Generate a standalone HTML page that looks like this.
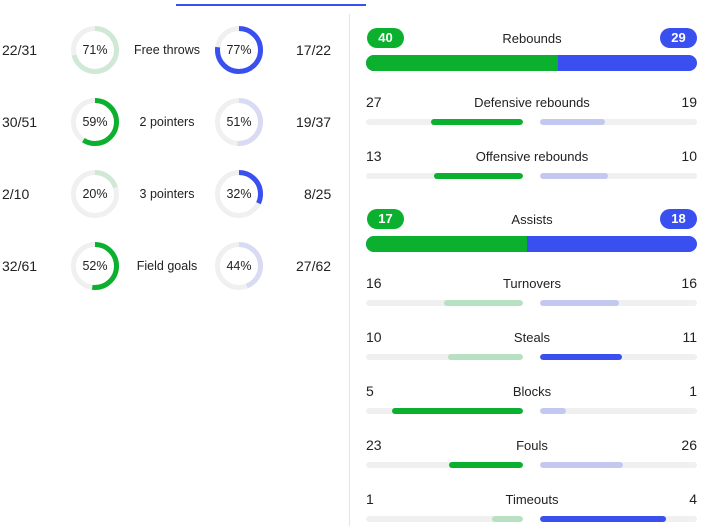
<!DOCTYPE html>
<html><head><meta charset="utf-8"><style>
body{margin:0;width:713px;height:526px;background:#fff;position:relative;overflow:hidden;font-family:"Liberation Sans",sans-serif;color:#222;}
.a{position:absolute;white-space:nowrap}
.v{font-size:14px}
.l{font-size:13px;transform:translateX(-50%)}
.tr{position:absolute;height:6px;width:157px;background:#f0f0f0;border-radius:3px;overflow:hidden}
.f{position:absolute;top:0;height:6px;border-radius:3px}
.pill{position:absolute;height:20px;width:37px;border-radius:10px;color:#fff;font-weight:bold;font-size:13px;text-align:center;line-height:20px}
</style></head><body>
<div class="a" style="left:176px;top:4px;width:190px;height:2px;background:#3a4ff0"></div>
<div class="a" style="left:349px;top:14px;width:1px;height:512px;background:#e4e4e4"></div>

<svg class="a" style="left:0;top:0" width="349" height="526">
<g fill="none" stroke-width="5">
<circle cx="95" cy="50" r="21.5" stroke="#f0f0f0"/><circle cx="95" cy="50" r="21.5" stroke="#cfe9d6" stroke-dasharray="95.9 200" transform="rotate(-90 95 50)"/>
<circle cx="239" cy="50" r="21.5" stroke="#f0f0f0"/><circle cx="239" cy="50" r="21.5" stroke="#3a4ff0" stroke-dasharray="104 200" transform="rotate(-90 239 50)"/>
<circle cx="95" cy="122" r="21.5" stroke="#f0f0f0"/><circle cx="95" cy="122" r="21.5" stroke="#0bb02e" stroke-dasharray="79.7 200" transform="rotate(-90 95 122)"/>
<circle cx="239" cy="122" r="21.5" stroke="#f0f0f0"/><circle cx="239" cy="122" r="21.5" stroke="#d8dbf3" stroke-dasharray="68.9 200" transform="rotate(-90 239 122)"/>
<circle cx="95" cy="194" r="21.5" stroke="#f0f0f0"/><circle cx="95" cy="194" r="21.5" stroke="#cfe9d6" stroke-dasharray="27 200" transform="rotate(-90 95 194)"/>
<circle cx="239" cy="194" r="21.5" stroke="#f0f0f0"/><circle cx="239" cy="194" r="21.5" stroke="#3a4ff0" stroke-dasharray="43.2 200" transform="rotate(-90 239 194)"/>
<circle cx="95" cy="266" r="21.5" stroke="#f0f0f0"/><circle cx="95" cy="266" r="21.5" stroke="#0bb02e" stroke-dasharray="70.2 200" transform="rotate(-90 95 266)"/>
<circle cx="239" cy="266" r="21.5" stroke="#f0f0f0"/><circle cx="239" cy="266" r="21.5" stroke="#d8dbf3" stroke-dasharray="59.4 200" transform="rotate(-90 239 266)"/>
</g>
<g font-family="Liberation Sans, sans-serif" fill="#222">
<g font-size="12.5" text-anchor="middle">
<text x="95" y="54">71%</text><text x="239" y="54">77%</text>
<text x="95" y="126">59%</text><text x="239" y="126">51%</text>
<text x="95" y="198">20%</text><text x="239" y="198">32%</text>
<text x="95" y="270">52%</text><text x="239" y="270">44%</text>
<text x="167" y="54">Free throws</text><text x="167" y="126">2 pointers</text>
<text x="167" y="198">3 pointers</text><text x="167" y="270">Field goals</text>
</g>
<g font-size="14">
<text x="2" y="55">22/31</text><text x="296" y="55">17/22</text>
<text x="2" y="127">30/51</text><text x="296" y="127">19/37</text>
<text x="2" y="199">2/10</text><text x="304" y="199">8/25</text>
<text x="2" y="271">32/61</text><text x="296" y="271">27/62</text>
</g></g>
</svg>

<div class="pill" style="left:367px;top:28px;background:#0bb02e">40</div>
<div class="pill" style="left:660px;top:28px;background:#3a4ff0">29</div>
<div class="a l" style="left:532px;top:31px">Rebounds</div>
<div class="a" style="left:366px;top:55px;width:331px;height:16px;border-radius:8px;overflow:hidden;background:#3a4ff0"><div style="width:192px;height:16px;background:#0bb02e"></div></div>

<div class="pill" style="left:367px;top:209px;background:#0bb02e">17</div>
<div class="pill" style="left:660px;top:209px;background:#3a4ff0">18</div>
<div class="a l" style="left:532px;top:212px">Assists</div>
<div class="a" style="left:366px;top:236px;width:331px;height:16px;border-radius:8px;overflow:hidden;background:#3a4ff0"><div style="width:161px;height:16px;background:#0bb02e"></div></div>

<div class="a v" style="left:366px;top:94px">27</div><div class="a v" style="right:16px;top:94px">19</div><div class="a l" style="left:532px;top:95px">Defensive rebounds</div>
<div class="tr" style="left:366px;top:119px"><div class="f" style="right:0;width:92px;background:#0bb02e"></div></div>
<div class="tr" style="left:540px;top:119px"><div class="f" style="left:0;width:65px;background:#c3c8f0"></div></div>

<div class="a v" style="left:366px;top:148px">13</div><div class="a v" style="right:16px;top:148px">10</div><div class="a l" style="left:532px;top:149px">Offensive rebounds</div>
<div class="tr" style="left:366px;top:173px"><div class="f" style="right:0;width:89px;background:#0bb02e"></div></div>
<div class="tr" style="left:540px;top:173px"><div class="f" style="left:0;width:68px;background:#c3c8f0"></div></div>

<div class="a v" style="left:366px;top:275px">16</div><div class="a v" style="right:16px;top:275px">16</div><div class="a l" style="left:532px;top:276px">Turnovers</div>
<div class="tr" style="left:366px;top:300px"><div class="f" style="right:0;width:79px;background:#b8e0c2"></div></div>
<div class="tr" style="left:540px;top:300px"><div class="f" style="left:0;width:79px;background:#c3c8f0"></div></div>

<div class="a v" style="left:366px;top:329px">10</div><div class="a v" style="right:16px;top:329px">11</div><div class="a l" style="left:532px;top:330px">Steals</div>
<div class="tr" style="left:366px;top:354px"><div class="f" style="right:0;width:75px;background:#b8e0c2"></div></div>
<div class="tr" style="left:540px;top:354px"><div class="f" style="left:0;width:82px;background:#3a4ff0"></div></div>

<div class="a v" style="left:366px;top:383px">5</div><div class="a v" style="right:16px;top:383px">1</div><div class="a l" style="left:532px;top:384px">Blocks</div>
<div class="tr" style="left:366px;top:408px"><div class="f" style="right:0;width:131px;background:#0bb02e"></div></div>
<div class="tr" style="left:540px;top:408px"><div class="f" style="left:0;width:26px;background:#c3c8f0"></div></div>

<div class="a v" style="left:366px;top:437px">23</div><div class="a v" style="right:16px;top:437px">26</div><div class="a l" style="left:532px;top:438px">Fouls</div>
<div class="tr" style="left:366px;top:462px"><div class="f" style="right:0;width:74px;background:#0bb02e"></div></div>
<div class="tr" style="left:540px;top:462px"><div class="f" style="left:0;width:83px;background:#c3c8f0"></div></div>

<div class="a v" style="left:366px;top:491px">1</div><div class="a v" style="right:16px;top:491px">4</div><div class="a l" style="left:532px;top:492px">Timeouts</div>
<div class="tr" style="left:366px;top:516px"><div class="f" style="right:0;width:31px;background:#b8e0c2"></div></div>
<div class="tr" style="left:540px;top:516px"><div class="f" style="left:0;width:126px;background:#3a4ff0"></div></div>
</body></html>
